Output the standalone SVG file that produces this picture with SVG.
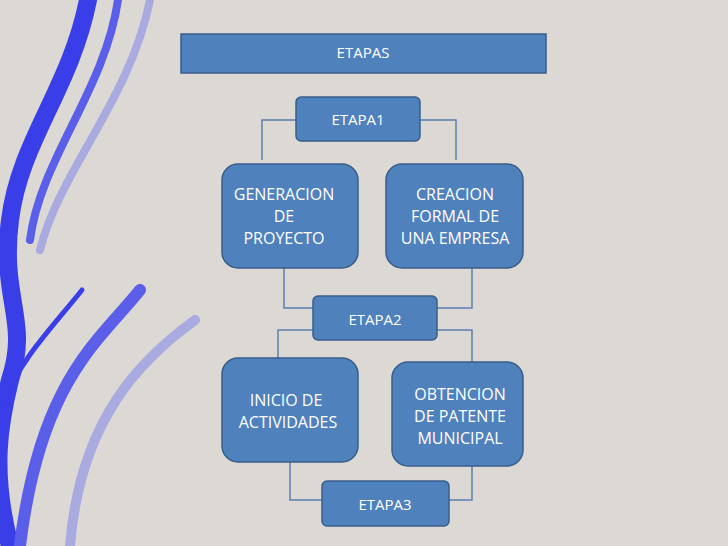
<svg xmlns="http://www.w3.org/2000/svg" width="728" height="546" viewBox="0 0 728 546">
<style>
.b{fill:#4f81bd;stroke:#385d8a;stroke-width:1.5}
.t{font-family:"Open Sans","Liberation Sans",sans-serif;font-size:16px;fill:#fff;text-anchor:middle}
.s{font-size:15px}
.c{fill:none;stroke:#5b7fae;stroke-width:1.5}
</style>
<rect width="728" height="546" fill="#dcd9d5"/>
<g id="decor" fill="none" stroke-linecap="round">
<path d="M88 0 C70 90 20 140 10 220 C0 300 30 320 10 380 C0 420 -10 470 10 546" stroke="#3a3ee8" stroke-width="18"/>
<path d="M118 0 C105 90 40 160 30 240" stroke="#5a5ee8" stroke-width="8"/>
<path d="M150 0 C130 100 60 170 40 250" stroke="#a8aae0" stroke-width="8"/>
<path d="M82 290 C50 330 20 360 5 400" stroke="#3a3ee8" stroke-width="5"/>
<path d="M140 290 C100 340 40 380 20 546" stroke="#5a5ee8" stroke-width="12"/>
<path d="M195 320 C140 360 80 420 70 546" stroke="#a8aae0" stroke-width="10"/>
</g>
<g id="connectors" class="c">
<polyline points="296,120 262,120 262,160"/>
<polyline points="420,120 456,120 456,160"/>
<polyline points="284,268 284,308 313,308"/>
<polyline points="472,268 472,308 437,308"/>
<polyline points="313,330 278,330 278,358"/>
<polyline points="437,330 472,330 472,362"/>
<polyline points="290,462 290,500 322,500"/>
<polyline points="472,466 472,500 449,500"/>
</g>
<g id="etapas"><rect class="b" x="181" y="34" width="365" height="39"/><text class="t s" x="363" y="58">ETAPAS</text></g>
<g id="etapa1"><rect class="b" x="296" y="97" width="124" height="44" rx="5"/><text class="t s" x="358" y="125">ETAPA1</text></g>
<g id="generacion"><rect class="b" x="222" y="164" width="136" height="104" rx="16"/><text class="t" x="284" y="200">GENERACION</text><text class="t" x="284" y="222">DE</text><text class="t" x="284" y="244">PROYECTO</text></g>
<g id="creacion"><rect class="b" x="386" y="164" width="137" height="104" rx="16"/><text class="t" x="455" y="200">CREACION</text><text class="t" x="455" y="222">FORMAL DE</text><text class="t" x="455" y="244">UNA EMPRESA</text></g>
<g id="etapa2"><rect class="b" x="313" y="296" width="124" height="44" rx="5"/><text class="t s" x="375" y="325">ETAPA2</text></g>
<g id="inicio"><rect class="b" x="222" y="358" width="136" height="104" rx="16"/><text class="t" x="286" y="406">INICIO DE</text><text class="t" x="288" y="428">ACTIVIDADES</text></g>
<g id="obtencion"><rect class="b" x="392" y="362" width="131" height="104" rx="16"/><text class="t" x="460" y="400">OBTENCION</text><text class="t" x="460" y="422">DE PATENTE</text><text class="t" x="460" y="444">MUNICIPAL</text></g>
<g id="etapa3"><rect class="b" x="322" y="481" width="127" height="45" rx="5"/><text class="t s" x="385" y="510">ETAPA3</text></g>
</svg>
